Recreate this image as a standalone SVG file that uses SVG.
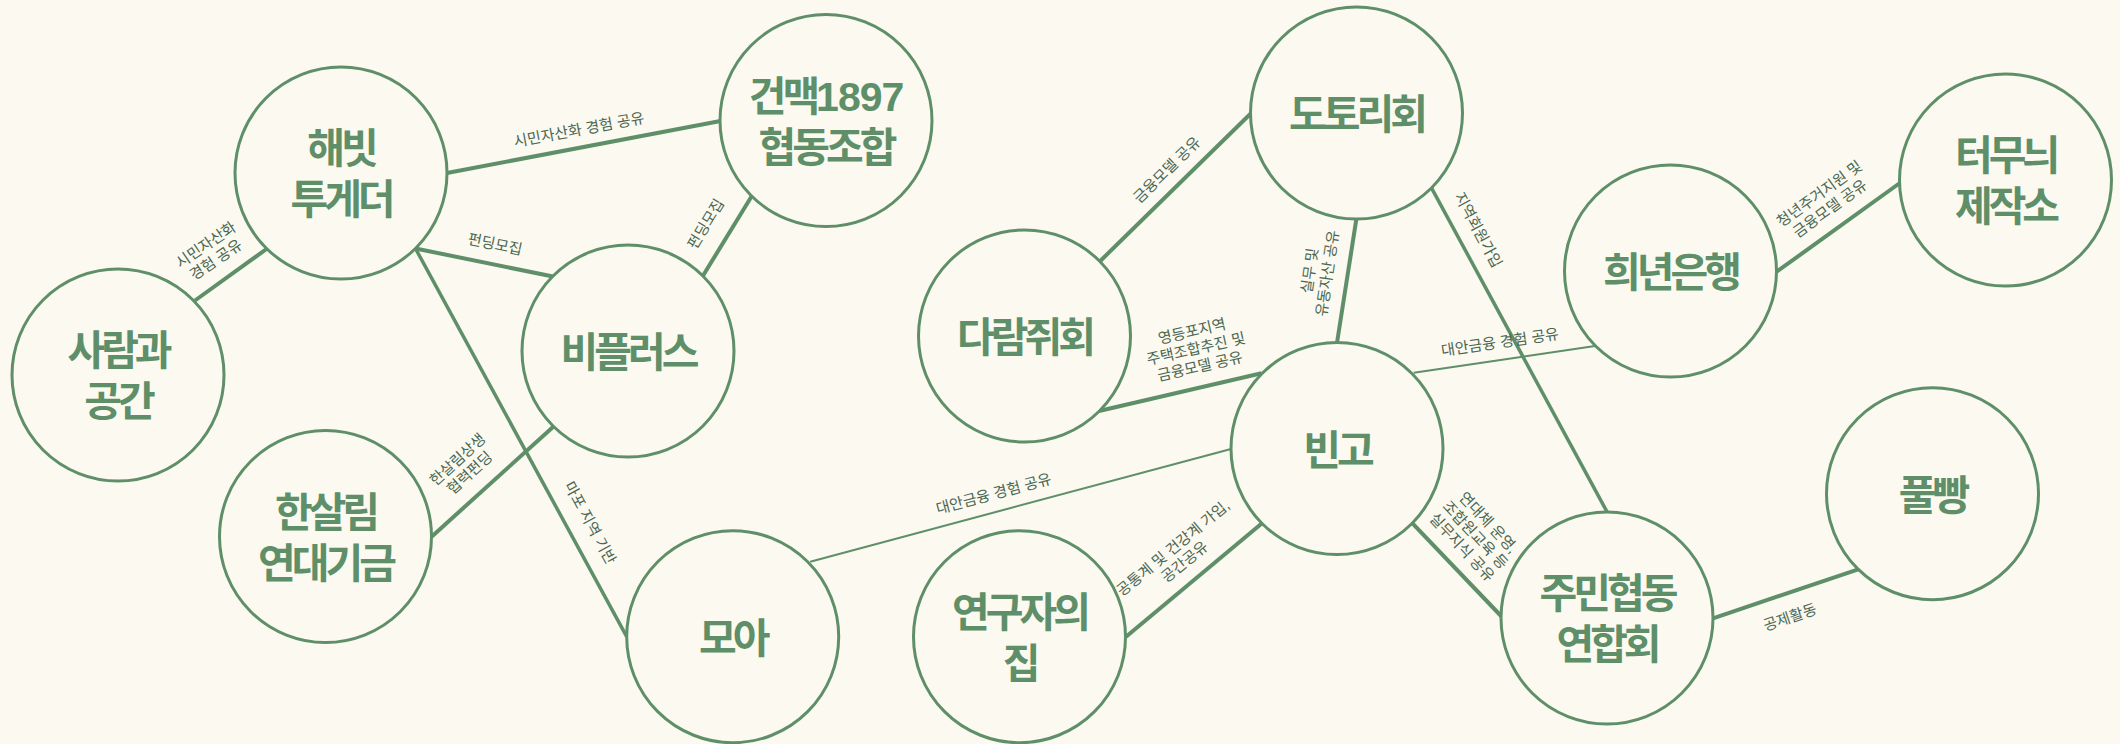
<svg xmlns="http://www.w3.org/2000/svg" width="2120" height="744" viewBox="0 0 2120 744">
<style>
.bg{fill:#fbf9f0}
.node circle{fill:#fbf9f0;stroke:#5e8f68;stroke-width:3}
.node text{font-family:"Liberation Sans","Noto Sans CJK KR",sans-serif;font-weight:700;font-size:41px;fill:#5e8f68;text-anchor:middle;letter-spacing:-4px}
.edge{stroke:#5e8f68;stroke-width:4;stroke-linecap:butt;fill:none}
.mid{stroke-width:3.5}
.thin{stroke-width:2}
.lbl text{font-family:"Liberation Sans","Noto Sans CJK KR",sans-serif;font-size:15px;fill:#4a6650;text-anchor:middle}
</style>
<rect class="bg" x="0" y="0" width="2120" height="744"/>
<g id="connectors">
<line class="edge" x1="266.5" y1="249" x2="195" y2="300.5"/>
<line class="edge" x1="447" y1="173" x2="720.5" y2="121"/>
<line class="edge" x1="415.5" y1="248.5" x2="553" y2="276.5"/>
<line class="edge mid" x1="415.5" y1="248.5" x2="626.7" y2="636.7"/>
<line class="edge" x1="751.5" y1="196.5" x2="702.5" y2="276.5"/>
<line class="edge" x1="553.3" y1="426.7" x2="431.6" y2="536.7"/>
<line class="edge" x1="1099.5" y1="261.7" x2="1251" y2="113.3"/>
<line class="edge" x1="1099" y1="411" x2="1261.5" y2="373.3"/>
<line class="edge" x1="1356.4" y1="218.8" x2="1337" y2="342.7"/>
<line class="edge mid" x1="1431.2" y1="187.3" x2="1607.5" y2="512.7"/>
<line class="edge thin" x1="1413.8" y1="372.7" x2="1595" y2="346"/>
<line class="edge thin" x1="1231" y1="449" x2="810.2" y2="561.7"/>
<line class="edge" x1="1261.7" y1="523.5" x2="1126" y2="636.7"/>
<line class="edge" x1="1412.5" y1="523.3" x2="1502" y2="617"/>
<line class="edge" x1="1777" y1="271.5" x2="1904" y2="180"/>
<line class="edge" x1="1713" y1="618.3" x2="1858.2" y2="569.3"/>
<g class="lbl">
<text transform="translate(211,252.5) rotate(-34.3)"><tspan x="0" y="-4">시민자산화</tspan><tspan x="0" y="14">경험 공유</tspan></text>
<text transform="translate(579,130) rotate(-10.6)" y="5">시민자산화 경험 공유</text>
<text transform="translate(495,244.5) rotate(11.7)" y="5">펀딩모집</text>
<text transform="translate(590,523) rotate(61.5)" y="5">마포 지역 기반</text>
<text transform="translate(706,224) rotate(-58.5)" y="5">펀딩모집</text>
<text transform="translate(463.7,466.3) rotate(-42.2)"><tspan x="0" y="-4">한살림상생</tspan><tspan x="0" y="14">협력펀딩</tspan></text>
<text transform="translate(1167,170) rotate(-44.4)" y="5">금융모델 공유</text>
<text transform="translate(1196,349) rotate(-12.8)"><tspan x="0" y="-13">영등포지역</tspan><tspan x="0" y="5">주택조합추진 및</tspan><tspan x="0" y="23">금융모델 공유</tspan></text>
<text transform="translate(1318.7,272) rotate(-81.7)"><tspan x="0" y="-4">실무 및</tspan><tspan x="0" y="14">유동자산 공유</tspan></text>
<text transform="translate(1478,230) rotate(61.6)" y="5">지역회원가입</text>
<text transform="translate(1500,342.5) rotate(-8.4)" y="5">대안금융 경험 공유</text>
<text transform="translate(993.8,494) rotate(-15)" y="5">대안금융 경험 공유</text>
<text transform="translate(1179,555) rotate(-39.5)"><tspan x="0" y="-4">공통계 및 건강계 가입,</tspan><tspan x="0" y="14">공간공유</tspan></text>
<text transform="translate(1475,535) rotate(46.9)"><tspan x="0" y="-13">연대체 운영,</tspan><tspan x="0" y="5">조합원교육 등</tspan><tspan x="0" y="23">실무지식 공유</tspan></text>
<text transform="translate(1824.7,201.3) rotate(-35.9)"><tspan x="0" y="-4">청년주거지원 및</tspan><tspan x="0" y="14">금융모델 공유</tspan></text>
<text transform="translate(1790,617.5) rotate(-18.6)" y="5">공제활동</text>
</g>
</g>
<g id="n-habit" class="node"><circle cx="341" cy="173" r="106"/><text><tspan x="341" y="163">해빗</tspan><tspan x="341" y="214">투게더</tspan></text></g>
<g id="n-saram" class="node"><circle cx="118" cy="375" r="106"/><text><tspan x="118" y="365">사람과</tspan><tspan x="118" y="416">공간</tspan></text></g>
<g id="n-bplus" class="node"><circle cx="628" cy="351" r="106"/><text x="628" y="367">비플러스</text></g>
<g id="n-hansalim" class="node"><circle cx="325.5" cy="536.5" r="106"/><text><tspan x="325.5" y="526.5">한살림</tspan><tspan x="325.5" y="577.5">연대기금</tspan></text></g>
<g id="n-moa" class="node"><circle cx="732.7" cy="636.7" r="106"/><text x="732.7" y="652.7">모아</text></g>
<g id="n-geonmaek" class="node"><circle cx="826" cy="120.5" r="106"/><text><tspan x="826" y="110.5">건맥<tspan style="letter-spacing:-1px">1897</tspan></tspan><tspan x="826" y="161.5">협동조합</tspan></text></g>
<g id="n-dotori" class="node"><circle cx="1356.5" cy="113" r="106"/><text x="1356.5" y="129">도토리회</text></g>
<g id="n-daram" class="node"><circle cx="1024.5" cy="336" r="106"/><text x="1024.5" y="352">다람쥐회</text></g>
<g id="n-bingo" class="node"><circle cx="1337" cy="448.5" r="106"/><text x="1337" y="464.5">빈고</text></g>
<g id="n-researcher" class="node"><circle cx="1019.5" cy="636.7" r="106"/><text><tspan x="1019.5" y="626.7">연구자의</tspan><tspan x="1019.5" y="677.7">집</tspan></text></g>
<g id="n-heenyeon" class="node"><circle cx="1670.5" cy="271" r="106"/><text x="1670.5" y="287">희년은행</text></g>
<g id="n-teomuni" class="node"><circle cx="2005.5" cy="180" r="106"/><text><tspan x="2005.5" y="170">터무늬</tspan><tspan x="2005.5" y="221">제작소</tspan></text></g>
<g id="n-jumin" class="node"><circle cx="1607" cy="618" r="106"/><text><tspan x="1607" y="608">주민협동</tspan><tspan x="1607" y="659">연합회</tspan></text></g>
<g id="n-pulppang" class="node"><circle cx="1932.5" cy="493.7" r="106"/><text x="1932.5" y="509.7">풀빵</text></g>
</svg>
